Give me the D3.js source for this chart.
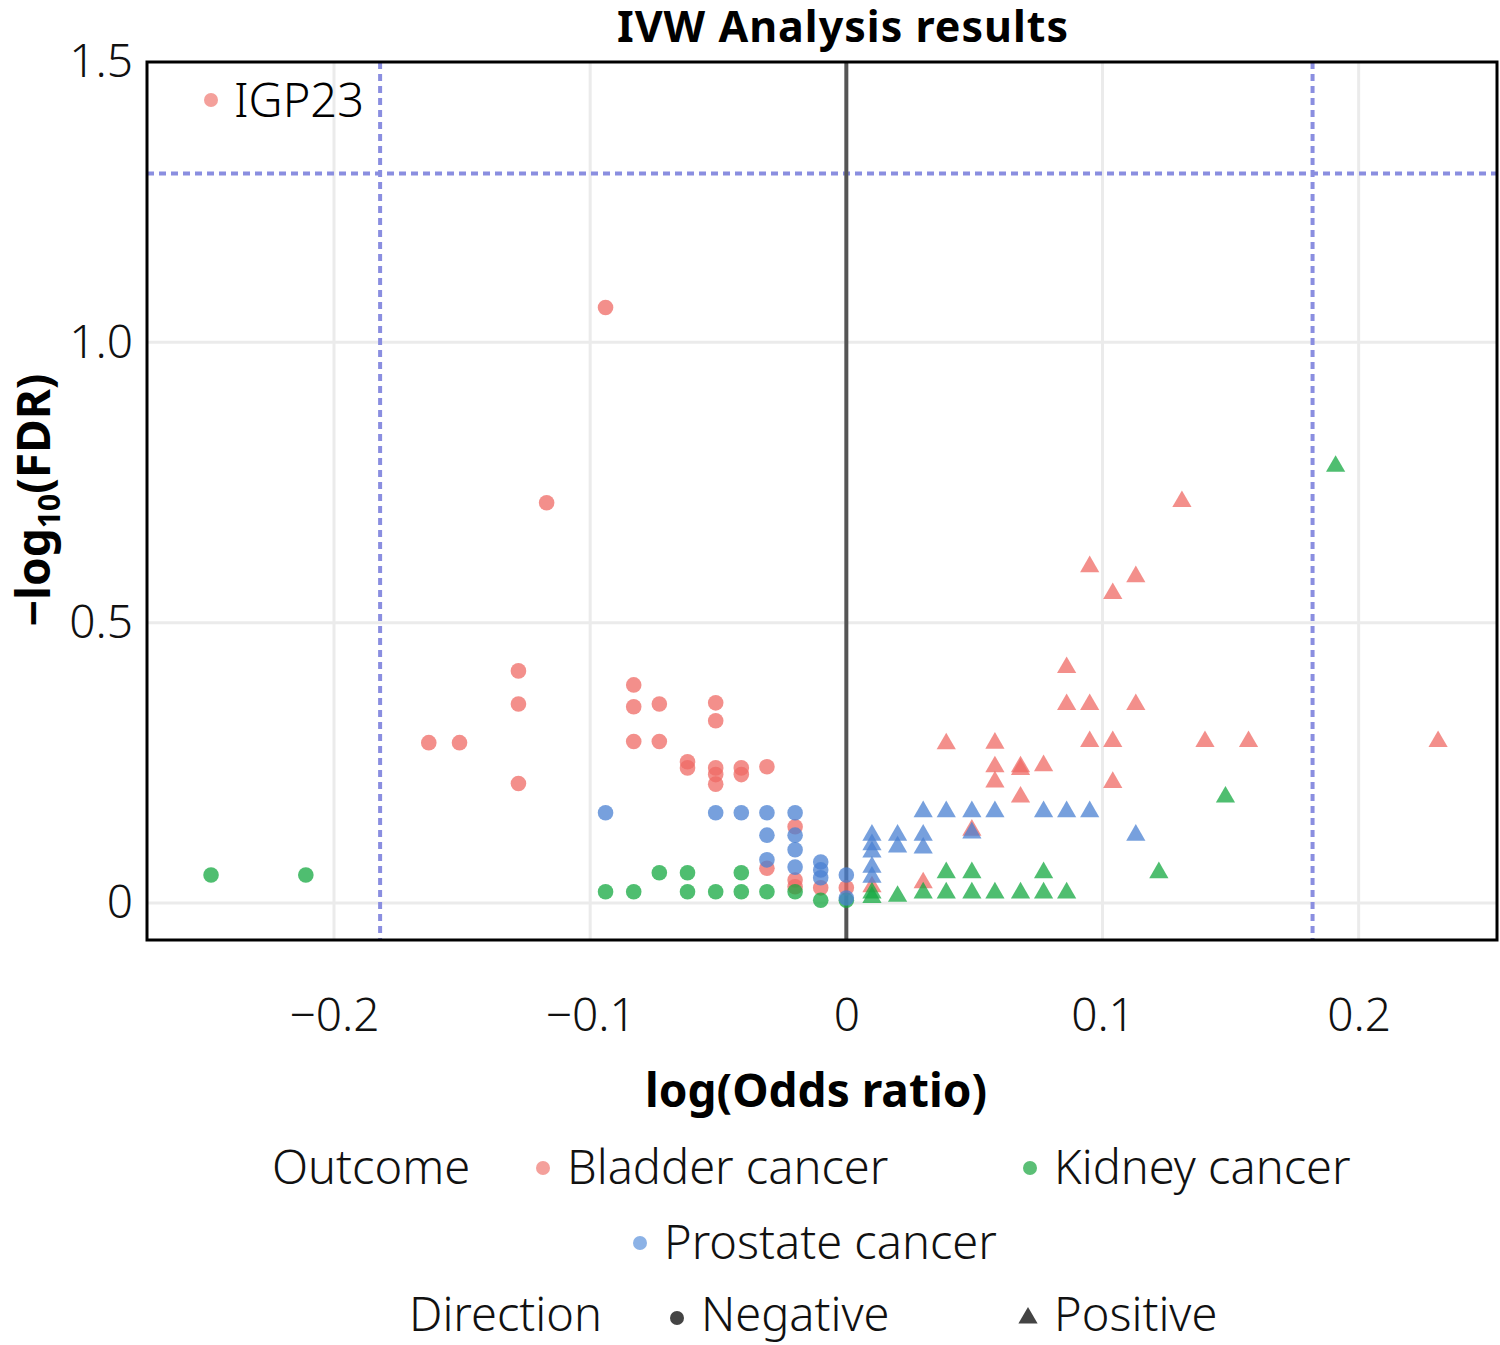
<!DOCTYPE html>
<html>
<head>
<meta charset="utf-8">
<script src="https://cdn.jsdelivr.net/npm/d3@7"></script>
<style>
  body { margin: 0; background: #fff; }
  svg text { font-family: "Noto Sans", "DejaVu Sans", sans-serif; font-stretch: condensed; font-weight: 300; }
</style>
</head>
<body>
<div id="chart"></div>
<script>
// log(OR) and -log10(FDR), one array per outcome
const bladder = [
  [-0.094, 1.062], [-0.117, 0.714], [-0.128, 0.414], [-0.128, 0.355], [-0.128, 0.213],
  [-0.163, 0.286], [-0.151, 0.286], [-0.083, 0.389], [-0.083, 0.350], [-0.083, 0.288],
  [-0.073, 0.355], [-0.073, 0.288], [-0.062, 0.252], [-0.062, 0.241], [-0.051, 0.357],
  [-0.051, 0.325], [-0.051, 0.241], [-0.051, 0.229], [-0.051, 0.212], [-0.041, 0.241],
  [-0.041, 0.229], [-0.031, 0.243], [-0.031, 0.062], [-0.020, 0.136], [-0.020, 0.041],
  [-0.020, 0.029], [-0.010, 0.027], [0, 0.027],
  [0.010, 0.029], [0.030, 0.036], [0.039, 0.284], [0.049, 0.130], [0.058, 0.285],
  [0.058, 0.243], [0.058, 0.216], [0.068, 0.243], [0.068, 0.238], [0.068, 0.189],
  [0.077, 0.245], [0.086, 0.420], [0.086, 0.354], [0.095, 0.600], [0.095, 0.354],
  [0.095, 0.288], [0.104, 0.552], [0.104, 0.288], [0.104, 0.215], [0.113, 0.582],
  [0.113, 0.354], [0.131, 0.716], [0.140, 0.288], [0.157, 0.288], [0.231, 0.288]
];
const kidney = [
  [-0.248, 0.050], [-0.211, 0.050], [-0.094, 0.020], [-0.083, 0.020], [-0.073, 0.054],
  [-0.062, 0.054], [-0.062, 0.020], [-0.051, 0.020], [-0.041, 0.054], [-0.041, 0.020],
  [-0.031, 0.020], [-0.020, 0.020], [-0.010, 0.005], [0, 0.005],
  [0.010, 0.018], [0.010, 0.010], [0.020, 0.012], [0.030, 0.018], [0.039, 0.054],
  [0.039, 0.018], [0.049, 0.054], [0.049, 0.018], [0.058, 0.018], [0.068, 0.018],
  [0.077, 0.054], [0.077, 0.018], [0.086, 0.018], [0.122, 0.054], [0.148, 0.189],
  [0.191, 0.779]
];
const prostate = [
  [-0.094, 0.161], [-0.051, 0.161], [-0.041, 0.161], [-0.031, 0.161], [-0.031, 0.121],
  [-0.031, 0.077], [-0.020, 0.161], [-0.020, 0.121], [-0.020, 0.095], [-0.020, 0.064],
  [-0.010, 0.073], [-0.010, 0.059], [-0.010, 0.045], [0, 0.050], [0, 0.009],
  [0.010, 0.121], [0.010, 0.104], [0.010, 0.091], [0.010, 0.064], [0.010, 0.046],
  [0.020, 0.121], [0.020, 0.100], [0.030, 0.163], [0.030, 0.121], [0.030, 0.098],
  [0.039, 0.163], [0.049, 0.163], [0.049, 0.125], [0.058, 0.163], [0.077, 0.163],
  [0.086, 0.163], [0.095, 0.163], [0.113, 0.121]
];

const outcomes = ['Bladder cancer', 'Kidney cancer', 'Prostate cancer'];
const colors = ['#ef6a64', '#14a840', '#4a80d2'];
const legendColors = ['#f4a09b', '#5bbf76', '#8cb2e6'];
const xTicks = [-0.2, -0.1, 0, 0.1, 0.2];
const xTickLabels = ['\u22120.2', '\u22120.1', '0', '0.1', '0.2'];
const yTicks = [0, 0.5, 1.0, 1.5];
const yTickLabels = ['0', '0.5', '1.0', '1.5'];
const fdrLine = 1.301;      // -log10(0.05)
const orLines = [-0.182, 0.182];

const W = 1500, H = 1345;
const m = { left: 147, right: 1497, top: 62, bottom: 940 };

const svg = d3.select('#chart').append('svg').attr('width', W).attr('height', H);

const x = d3.scaleLinear().domain([-0.273, 0.254]).range([m.left, m.right]);
const y = d3.scaleLinear().domain([-0.066, 1.5]).range([m.bottom, m.top]);

// grid
svg.append('g').selectAll('line').data(xTicks).join('line')
  .attr('x1', d => x(d)).attr('x2', d => x(d)).attr('y1', m.top).attr('y2', m.bottom)
  .attr('stroke', '#ebebeb').attr('stroke-width', 3);
svg.append('g').selectAll('line').data(yTicks.slice(0, 3)).join('line')
  .attr('x1', m.left).attr('x2', m.right).attr('y1', d => y(d)).attr('y2', d => y(d))
  .attr('stroke', '#ebebeb').attr('stroke-width', 3);

// threshold lines
svg.append('line')
  .attr('x1', m.left).attr('x2', m.right).attr('y1', y(fdrLine)).attr('y2', y(fdrLine))
  .attr('stroke', '#8a8ee0').attr('stroke-width', 4).attr('stroke-dasharray', '7,5');
svg.append('g').selectAll('line').data(orLines).join('line')
  .attr('x1', d => x(d)).attr('x2', d => x(d)).attr('y1', m.top).attr('y2', m.bottom)
  .attr('stroke', '#8a8ee0').attr('stroke-width', 4).attr('stroke-dasharray', '7,5');
svg.append('line')
  .attr('x1', x(0)).attr('x2', x(0)).attr('y1', m.top).attr('y2', m.bottom)
  .attr('stroke', '#555').attr('stroke-width', 4);

// points
const tri = d3.symbol().type(d3.symbolTriangle).size(160);
[bladder, kidney, prostate].forEach(function (data, i) {
  const g = svg.append('g').attr('fill', colors[i]).attr('fill-opacity', 0.75);
  g.selectAll('circle').data(data.filter(d => d[0] <= 0)).join('circle')
    .attr('cx', d => x(d[0])).attr('cy', d => y(d[1])).attr('r', 7.8);
  g.selectAll('path').data(data.filter(d => d[0] > 0)).join('path')
    .attr('d', tri)
    .attr('transform', d => 'translate(' + x(d[0]) + ',' + y(d[1]) + ')');
});

// frame
svg.append('rect')
  .attr('x', m.left).attr('y', m.top).attr('width', m.right - m.left).attr('height', m.bottom - m.top)
  .attr('fill', 'none').attr('stroke', '#000').attr('stroke-width', 3);

// axes (labels only)
const xAxis = svg.append('g').attr('transform', 'translate(0,' + m.bottom + ')')
  .call(d3.axisBottom(x).tickValues(xTicks).tickSize(0).tickPadding(58)
    .tickFormat((d, i) => xTickLabels[i]));
const yAxis = svg.append('g').attr('transform', 'translate(' + m.left + ',0)')
  .call(d3.axisLeft(y).tickValues(yTicks).tickSize(0).tickPadding(14)
    .tickFormat((d, i) => yTickLabels[i]));
[xAxis, yAxis].forEach(function (a) {
  a.select('.domain').remove();
  a.selectAll('text').attr('font-size', 46).attr('fill', '#111')
    .style('font-family', '"Noto Sans", sans-serif').style('font-stretch', 'condensed')
    .style('font-weight', 300);
});

// IGP23 key
svg.append('circle').attr('cx', 211).attr('cy', 100).attr('r', 7).attr('fill', legendColors[0]);
svg.append('text').attr('x', 234).attr('y', 117).attr('font-size', 47).text('IGP23');

// title & axis titles
svg.append('text').attr('x', 843).attr('y', 42).attr('text-anchor', 'middle')
  .attr('font-size', 43).attr('letter-spacing', 1).style('font-weight', 'bold')
  .text('IVW Analysis results');
svg.append('text').attr('x', 816).attr('y', 1107).attr('text-anchor', 'middle')
  .attr('font-size', 46).style('font-weight', 'bold').text('log(Odds ratio)');
const yl = svg.append('text').attr('transform', 'translate(50,500) rotate(-90)')
  .attr('text-anchor', 'middle').attr('font-size', 46).style('font-weight', 'bold');
yl.append('tspan').text('\u2212log');
yl.append('tspan').attr('font-size', 30).attr('dy', 10).text('10');
yl.append('tspan').attr('dy', -10).text('(FDR)');

// legend
const lg = svg.append('g').attr('font-size', 47).attr('fill', '#111');
lg.append('text').attr('x', 272).attr('y', 1184).text('Outcome');
const items = [[543, 1168], [1030, 1168], [640, 1243]];
outcomes.forEach(function (name, i) {
  lg.append('circle').attr('cx', items[i][0]).attr('cy', items[i][1]).attr('r', 7).attr('fill', legendColors[i]);
  lg.append('text').attr('x', items[i][0] + 24).attr('y', items[i][1] + 16).text(name);
});
lg.append('text').attr('x', 409).attr('y', 1331).text('Direction');
lg.append('circle').attr('cx', 677).attr('cy', 1318).attr('r', 7).attr('fill', '#444');
lg.append('text').attr('x', 701).attr('y', 1331).text('Negative');
lg.append('path').attr('d', tri).attr('fill', '#444')
  .attr('transform', 'translate(1028,1318)');
lg.append('text').attr('x', 1054).attr('y', 1331).text('Positive');
</script>
</body>
</html>
